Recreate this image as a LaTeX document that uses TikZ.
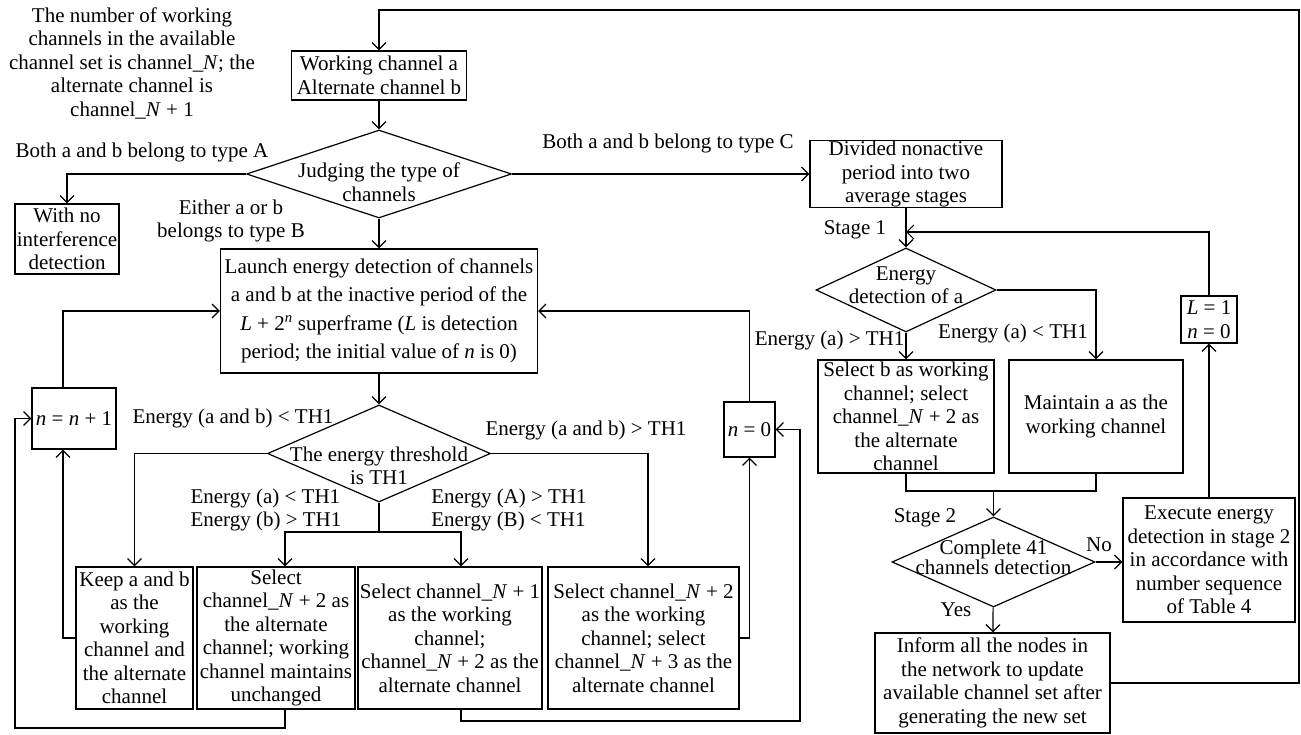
\documentclass[tikz,border=0pt]{standalone}
\usepackage{fontspec}
\setmainfont{Liberation Serif}
\usetikzlibrary{shapes.geometric,arrows.meta}

\begin{document}
\begin{tikzpicture}[x=1pt, y=-1pt, line width=1.2pt,
  font=\fontsize{21}{23.5}\selectfont,
  box/.style={draw, align=center, inner sep=0pt},
  dia/.style={draw, diamond, inner sep=0pt},
  txt/.style={align=center, inner sep=0pt},
  arr/.style={-{Straight Barb[length=7pt,width=14pt]}}]

\useasboundingbox (0,0) rectangle (1301,735);

\node[txt] (intro) at (132,63) {The number of working\\channels in the available\\channel set is channel\_\textit{N}; the\\alternate channel is\\channel\_\textit{N} + 1};
\node[box, minimum width=175pt, minimum height=49pt] (work) at (379,75.5) {Working channel a\\Alternate channel b};
\node[dia, minimum width=265pt, minimum height=88pt] (judge) at (379,174) {};
\node[txt] (judget) at (379,182) {Judging the type of\\channels};
\node[txt] (typeA) at (142,152) {Both a and b belong to type A};
\node[txt] (typeB) at (231,221) {Either a or b\\belongs to type B};
\node[txt] (typeC) at (668,143) {Both a and b belong to type C};
\node[box, minimum width=104pt, minimum height=70pt] (nointer) at (67,239) {With no\\interference\\detection};
\node[box, minimum width=192pt, minimum height=67pt] (divide) at (906,174) {Divided nonactive\\period into two\\average stages};

\node[box, minimum width=317pt, minimum height=124pt, font=\fontsize{21}{28.5}\selectfont] (launch) at (379,311) {Launch energy detection of channels\\a and b at the inactive period of the\\\textit{L} + 2\textsuperscript{\textit{n}} superframe (\textit{L} is detection\\period; the initial value of \textit{n} is 0)};
\node[box, minimum width=84pt, minimum height=61pt] (inc) at (74,418.5) {\textit{n} = \textit{n} + 1};
\node[box, minimum width=51pt, minimum height=55pt] (reset) at (749.5,429.5) {\textit{n} = 0};
\node[dia, minimum width=223pt, minimum height=97pt] (thresh) at (379,453.5) {};
\node[txt] (thresht) at (379,466) {The energy threshold\\is TH1};
\node[txt] (lowab) at (233,418) {Energy (a and b) < TH1};
\node[txt] (highab) at (586,430) {Energy (a and b) > TH1};
\node[txt, align=left] (lowa) at (266,510) {Energy (a) < TH1\\Energy (b) > TH1};
\node[txt, align=left] (higha) at (509,510) {Energy (A) > TH1\\Energy (B) < TH1};

\node[box, minimum width=117pt, minimum height=142pt] (keep) at (134.5,638) {Keep a and b\\as the\\working\\channel and\\the alternate\\channel};
\node[box, minimum width=158pt, minimum height=142pt] (keepw) at (276,638) {Select\\channel\_\textit{N} + 2 as\\the alternate\\channel; working\\channel maintains\\unchanged};
\node[box, minimum width=184pt, minimum height=142pt] (swap1) at (450,638) {Select channel\_\textit{N} + 1\\as the working\\channel;\\channel\_\textit{N} + 2 as the\\alternate channel};
\node[box, minimum width=191pt, minimum height=142pt] (swap2) at (643.5,638) {Select channel\_\textit{N} + 2\\as the working\\channel; select\\channel\_\textit{N} + 3 as the\\alternate channel};

\node[txt] (stage1) at (855,230) {Stage 1};
\node[dia, minimum width=180pt, minimum height=84pt] (deta) at (906,290) {};
\node[txt] (detat) at (906,285) {Energy\\detection of a};
\node[txt, anchor=east] (higha1) at (905,340) {Energy (a) > TH1};
\node[txt] (lowa1) at (1013,333) {Energy (a) < TH1};
\node[box, minimum width=176pt, minimum height=113pt] (selb) at (906,416.5) {Select b as working\\channel; select\\channel\_\textit{N} + 2 as\\the alternate\\channel};
\node[box, minimum width=174pt, minimum height=113pt] (keepa) at (1096,416.5) {Maintain a as the\\working channel};
\node[box, minimum width=56pt, minimum height=47pt] (restart) at (1209,319.5) {\textit{L} = 1\\\textit{n} = 0};
\node[txt] (stage2) at (925,518) {Stage 2};
\node[dia, minimum width=203pt, minimum height=90pt] (done) at (993.5,562) {};
\node[txt, font=\fontsize{21}{20}\selectfont] (donet) at (993.5,557) {Complete 41\\channels detection};
\node[txt] (no) at (1099,545) {No};
\node[txt] (yes) at (956,610) {Yes};
\node[box, minimum width=172pt, minimum height=124pt] (exec) at (1209,560) {Execute energy\\detection in stage 2\\in accordance with\\number sequence\\of Table 4};
\node[box, minimum width=235pt, minimum height=100pt] (inform) at (992.5,683) {Inform all the nodes in\\the network to update\\available channel set after\\generating the new set};

\coordinate (corner) at (1299,10);
\coordinate (split) at (379,532);
\coordinate (back) at (906,232);
\coordinate (merge) at (993.5,491);

\draw[arr] (inform.east) -| (corner) -| (work.north);
\draw[arr] (work) -- (judge);
\draw[arr] (judge.west) -| (nointer.north);
\draw[arr] (judge.east) -- (divide.west);
\draw[arr] (judge) -- (launch);
\draw[arr] (launch) -- (thresh);
\draw[arr] (thresh.west) -| (keep.north);
\draw[arr] (thresh.east) -| ([xshift=4.5pt]swap2.north);
\draw (thresh.south) -- (split);
\draw[arr] (split) -| ([xshift=9pt]keepw.north);
\draw[arr] (split) -| ([xshift=11pt]swap1.north);
\draw[arr] (keep.west) -| ([xshift=-11pt]inc.south);
\draw[arr] ([xshift=-11pt]inc.north) |- (launch.west);
\draw[arr] ([xshift=9pt]keepw.south) |- (15,728) |- (inc.west);
\draw[arr] ([xshift=11pt]swap1.south) |- (800,721) |- (reset.east);
\draw[arr] (swap2.east) -| (reset.south);
\draw[arr] (reset.north) |- (launch.east);

\draw[arr] (divide) -- (deta);
\draw[arr] (restart.north) |- (back);
\draw[arr] (deta) -- (selb);
\draw[arr] (deta.east) -| (keepa.north);
\draw (selb.south) |- (merge) -| (keepa.south);
\draw[arr] (merge) -- (done.north);
\draw[arr] (done.east) -- (done.east -| exec.west);
\draw[arr] (done) -- (inform);
\draw[arr] (exec) -- (restart);

\end{tikzpicture}
\end{document}
